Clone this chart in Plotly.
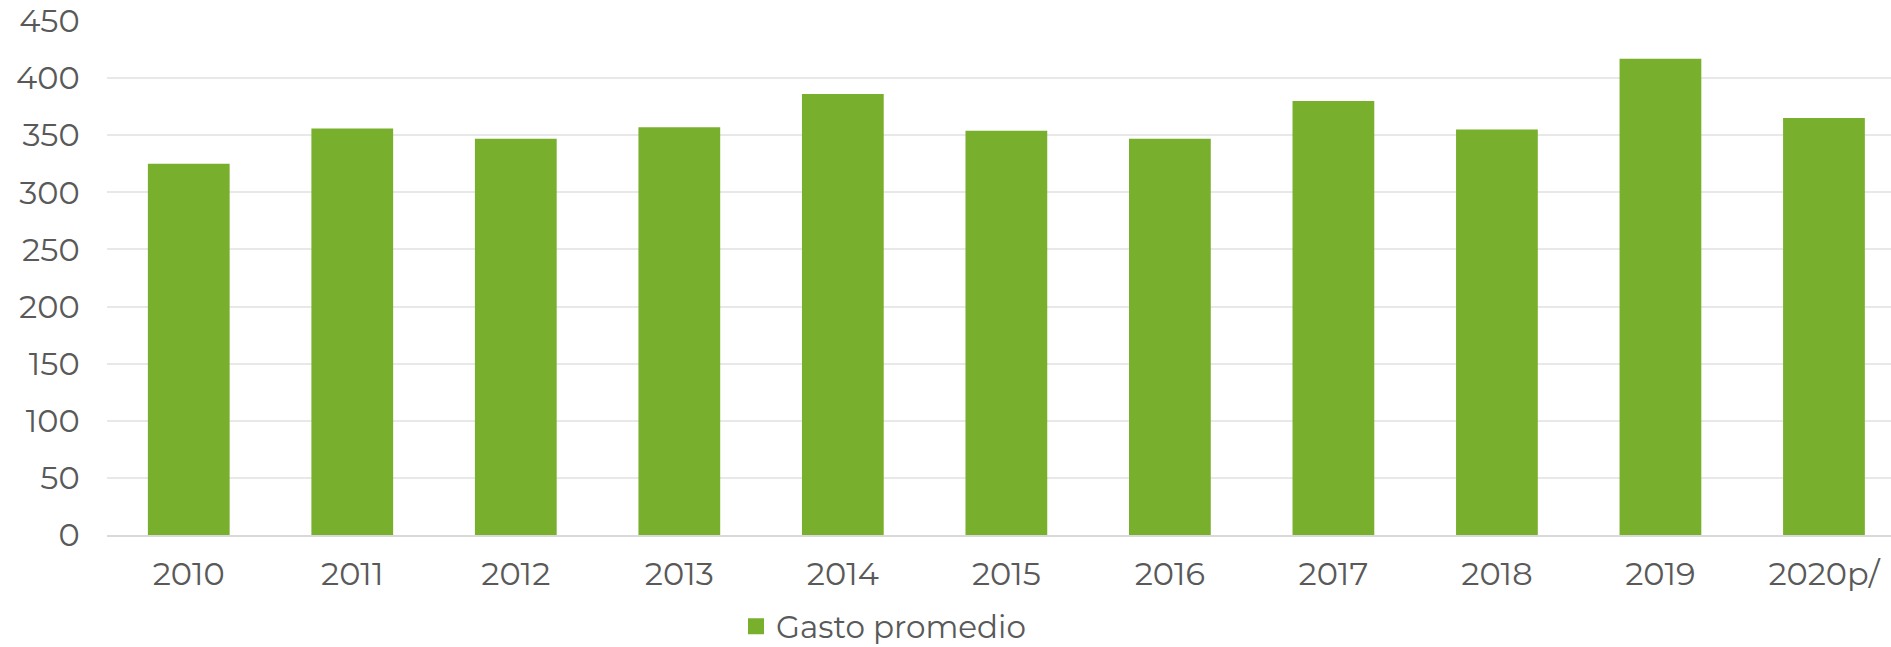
import plotly.graph_objects as go

years = ["2010", "2011", "2012", "2013", "2014", "2015", "2016", "2017", "2018", "2019", "2020p/"]
gasto_promedio = [325, 356, 347, 357, 386, 354, 347, 380, 355, 417, 365]
y_ticks = [0, 50, 100, 150, 200, 250, 300, 350, 400, 450]

W, H = 1891, 647
ml, mr, mt, mb = 107, 0, 21, 112
green = "#78AF2C"

fig = go.Figure()
fig.add_trace(go.Bar(
    x=list(range(len(years))),
    y=gasto_promedio,
    name="Gasto promedio",
    marker=dict(color=green, line=dict(width=0)),
    width=0.5,
    showlegend=False,
))
# legend entry with a larger square swatch
fig.add_trace(go.Scatter(
    x=[None], y=[None], mode="markers", name="Gasto promedio",
    marker=dict(symbol="square", size=17, color=green),
    showlegend=True,
))

font_family = "Montserrat, 'Open Sans', Lato, sans-serif"
fs = 32
fig.update_layout(
    width=W, height=H,
    margin=dict(l=ml, r=mr, t=mt, b=mb, pad=0, autoexpand=False),
    paper_bgcolor="white", plot_bgcolor="white",
    font=dict(family=font_family, size=fs, color="#595959"),
    showlegend=True,
    legend=dict(orientation="h", x=(736 - ml) / (W - ml), xanchor="left",
                y=-0.178, yanchor="middle", font=dict(size=31, color="#595959"),
                itemwidth=30, bgcolor="rgba(0,0,0,0)"),
    bargap=0.5,
)
fig.update_xaxes(
    tickmode="array", tickvals=list(range(len(years))), ticktext=years,
    range=[-0.5, 10.41], showgrid=False, showline=True, linecolor="#D9D9D9", linewidth=2,
    ticks="outside", ticklen=10, tickcolor="rgba(0,0,0,0)",
    tickfont=dict(size=fs, color="#595959"), zeroline=False, automargin=False,
    ticklabeloverflow="allow",
)
fig.update_yaxes(
    range=[0, 450.01], tickvals=y_ticks, showgrid=True, gridcolor="#E8E8E8", gridwidth=1.5,
    zeroline=False, showline=False,
    ticks="outside", ticklen=20, tickcolor="rgba(0,0,0,0)",
    tickfont=dict(size=fs, color="#595959"), automargin=False,
    ticklabeloverflow="allow",
)
fig.write_html("out.html", config={"displayModeBar": False},
               post_script="document.body.style.margin='0';document.body.style.overflow='hidden';")
